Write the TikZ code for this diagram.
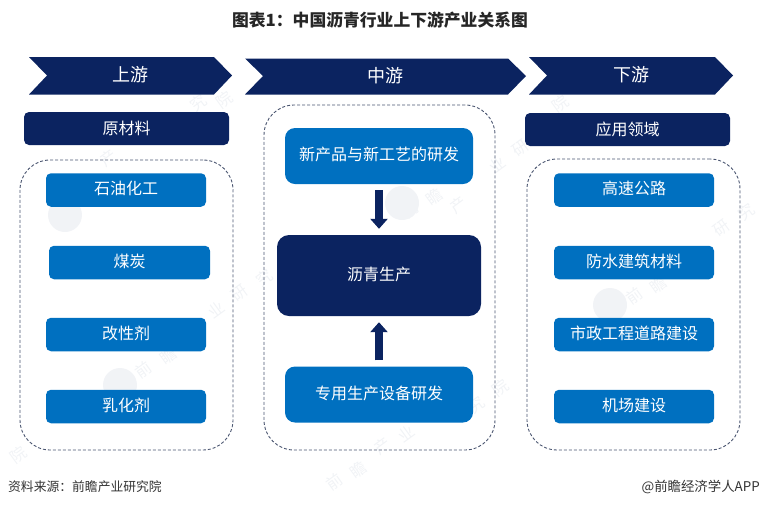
\documentclass[tikz,border=0pt]{standalone}
\usepackage{fontspec}
\setmainfont{Noto Sans CJK SC}
\usetikzlibrary{arrows.meta}

\definecolor{navy}{HTML}{0B2360}
\definecolor{midblue}{HTML}{0070C0}
\definecolor{dashgray}{HTML}{4A5570}
\definecolor{faint}{HTML}{F1F3F6}

\newcommand{\sizepx}[1]{\fontsize{#1}{#1}\selectfont}

\tikzset{
  chevron/.style={fill=navy},
  chevlabel/.style={text=white,inner sep=0pt,font=\sizepx{18}},
  headbox/.style={rectangle,rounded corners=5pt,fill=navy,text=white,minimum width=205pt,minimum height=33pt,inner sep=0pt,font=\sizepx{16}},
  itembox/.style={rectangle,rounded corners=5pt,fill=midblue,text=white,minimum width=160pt,minimum height=33.5pt,inner sep=0pt,text depth=4pt,font=\sizepx{16}},
  stepbox/.style={rectangle,rounded corners=10pt,fill=midblue,text=white,minimum width=188pt,minimum height=56pt,inner sep=0pt,text depth=4pt,font=\sizepx{16}},
  groupbox/.style={rectangle,rounded corners=30pt,draw=dashgray,densely dashed,line width=0.9pt,inner sep=0pt},
  bigarrow/.style={draw=navy,line width=8.5pt,-{Triangle[width=17pt,length=10pt]}},
  wmark/.style={text=faint,rotate=36,inner sep=0pt,font=\sizepx{16}},
}

\begin{document}
\begin{tikzpicture}[x=1pt, y=-1pt]
        \useasboundingbox (0,0) rectangle (760,507);

        % watermark, only what stays uncovered
        \foreach \ch/\wx/\wy [count=\i] in {产/108/158,究/198/103,院/224/100,前/143/370,瞻/168/356,业/216/310,研/240/293,究/264/278,
            前/410/210,瞻/434/197,产/458/205,业/497/165,研/521/148,院/560/104,前/634/296,瞻/658/285,研/722/228,究/746/212,
            前/334/482,瞻/358/470,产/382/446,业/406/434,究/476/405,院/500/388,院/18/455}
            \node[wmark] (W_\i) at (\wx,\wy) {\ch};
        \foreach \wx/\wy [count=\i] in {65/215,120/385,402/203,610/305}
            \fill[faint] (\wx,\wy) circle (17pt);

        \node[font=\sizepx{16.8}\bfseries,text=black!85,inner sep=0pt] (title) at (380,20.5) {图表1：中国沥青行业上下游产业关系图};

        % chevrons
        \fill[chevron] (29,57) -- (214,57) -- (232,75.5) -- (214,94.5) -- (29,94.5) -- (47,75.5) -- cycle;
        \fill[chevron] (245,58.5) -- (508,58.5) -- (526,76) -- (508,94.5) -- (245,94.5) -- (263,76) -- cycle;
        \fill[chevron] (529,57) -- (715,57) -- (733,75.5) -- (715,94.5) -- (529,94.5) -- (547,75.5) -- cycle;
        \node[chevlabel] (up) at (130,74.5) {上游};
        \node[chevlabel] (mid) at (385,75.5) {中游};
        \node[chevlabel] (down) at (631,75) {下游};

        \node[headbox] (raw) at (126.5,128.5) {原材料};
        \node[headbox] (use) at (627.5,129.5) {应用领域};

        % dashed groups
        \node[groupbox,minimum width=213pt,minimum height=290pt] (G_1) at (126.5,305) {};
        \node[groupbox,minimum width=231pt,minimum height=345pt] (G_2) at (379.5,277.5) {};
        \node[groupbox,minimum width=213pt,minimum height=291pt] (G_3) at (633.5,304.5) {};

        % left column
        \node[itembox] (L_1) at (126,190) {石油化工};
        \node[itembox,minimum width=161pt] (L_2) at (129.5,262.5) {煤炭};
        \node[itembox] (L_3) at (126,334.5) {改性剂};
        \node[itembox] (L_4) at (126,406.5) {乳化剂};

        % right column
        \node[itembox] (R_1) at (634,190) {高速公路};
        \node[itembox] (R_2) at (634,262.5) {防水建筑材料};
        \node[itembox] (R_3) at (634,334.5) {市政工程道路建设};
        \node[itembox] (R_4) at (634,406.5) {机场建设};

        % middle column
        \node[stepbox] (tech) at (379,156) {新产品与新工艺的研发};
        \node[stepbox,fill=navy,rounded corners=12pt,minimum width=204pt,minimum height=81pt] (prod) at (379,275.5) {沥青生产};
        \node[stepbox] (equip) at (379,394.5) {专用生产设备研发};

        \draw[bigarrow,shorten <=6pt,shorten >=6pt] (tech) -- (prod);
        \draw[bigarrow,shorten <=6pt,shorten >=6pt] (equip) -- (prod);

        \node[anchor=west,font=\sizepx{12.8},text=black!80,inner sep=0pt] (source) at (8,486.5) {资料来源：前瞻产业研究院};
        \node[anchor=east,font=\sizepx{13.4},text=black!80,inner sep=0pt] (credit) at (760,486.5) {@前瞻经济学人APP};
    \end{tikzpicture}
\end{document}
